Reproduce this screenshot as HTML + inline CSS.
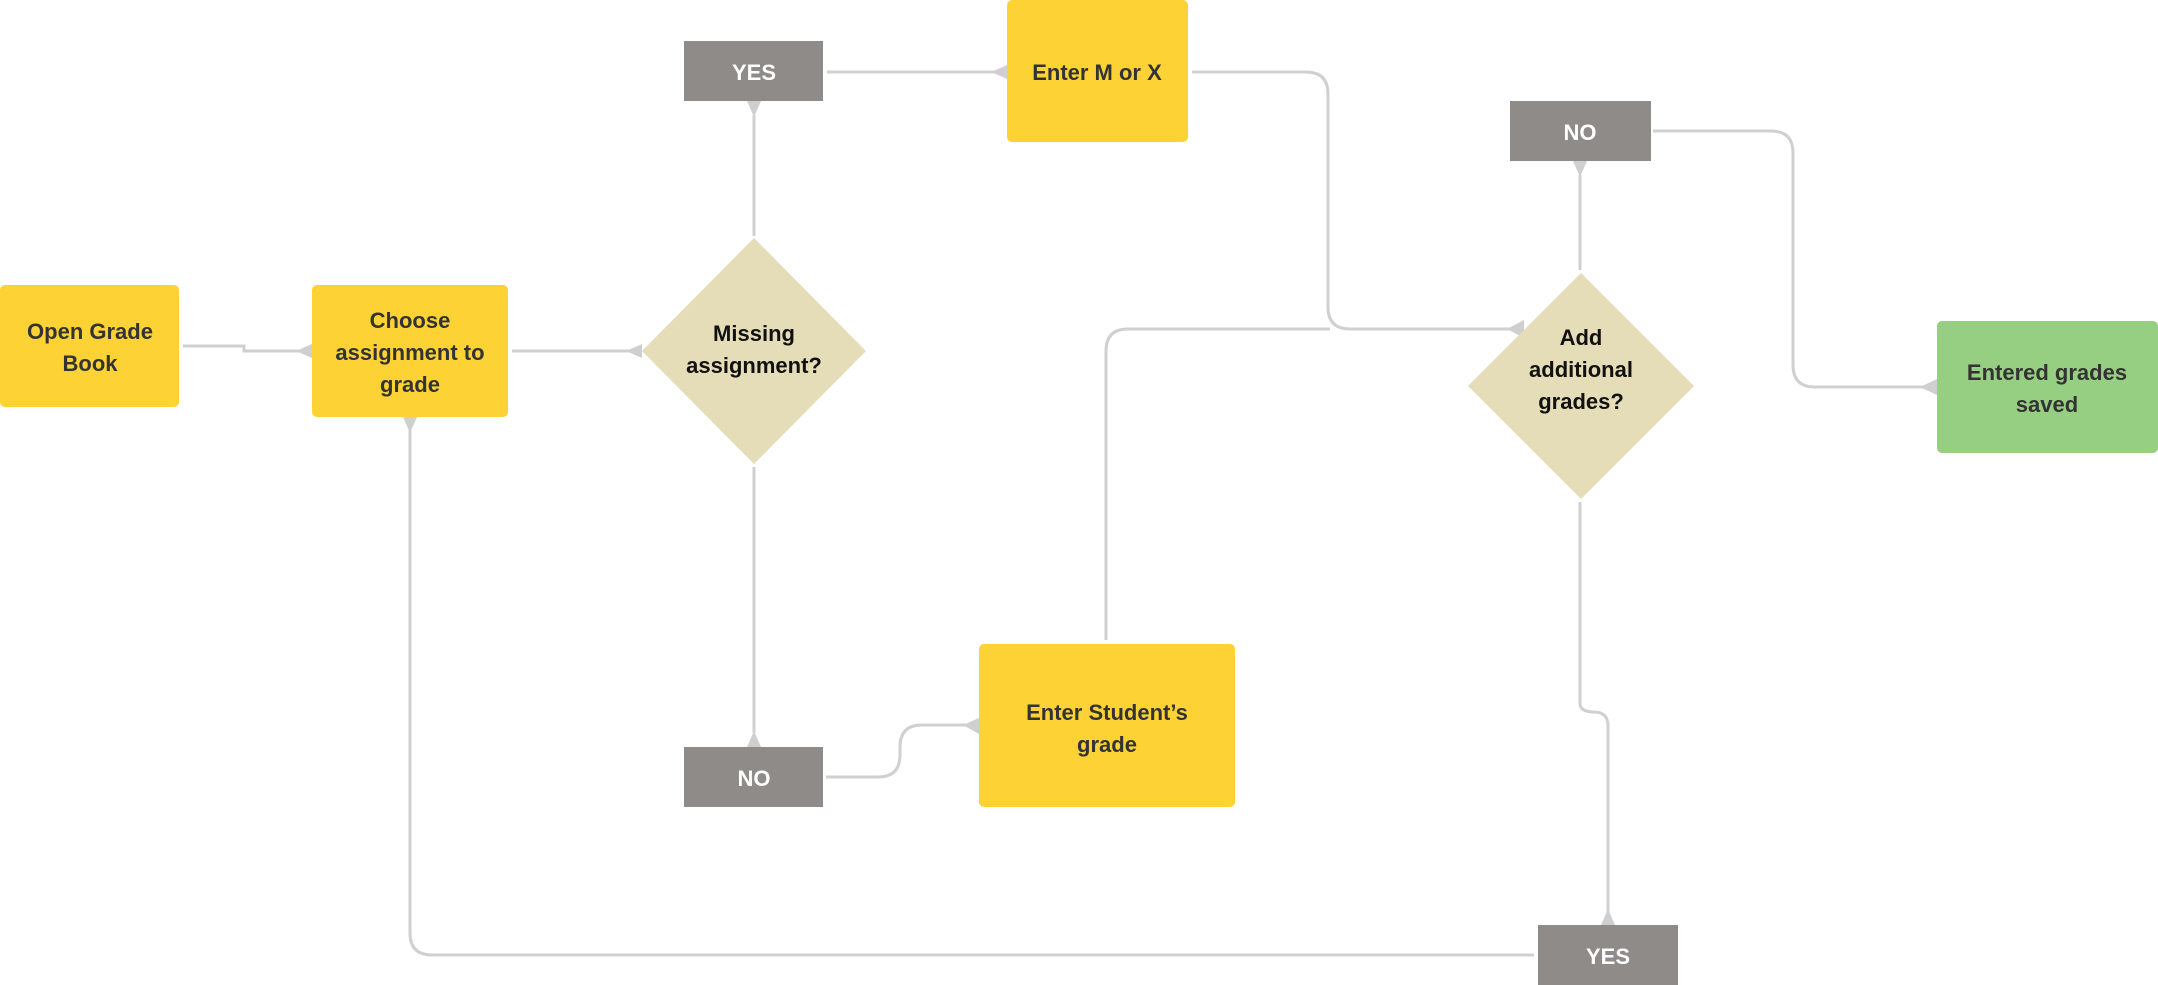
<!DOCTYPE html>
<html><head><meta charset="utf-8"><style>
html,body{margin:0;padding:0;background:#fff;}
svg{display:block}
text{font-family:"Liberation Sans",sans-serif;font-weight:bold;}
</style></head><body>
<svg width="2158" height="985" viewBox="0 0 2158 985" xmlns="http://www.w3.org/2000/svg">
<g fill="none" stroke="#d0d0d0" stroke-width="3">
<path d="M183 346 H244 V351 H300"/>
<path d="M512 351 H630"/>
<path d="M754 236 V115"/>
<path d="M827 72 H994"/>
<path d="M1192 72 H1306 Q1328 72 1328 94 V307 Q1328 329 1350 329 H1510"/>
<path d="M1106 640 V351 Q1106 329 1128 329 H1330"/>
<path d="M754 467 V733"/>
<path d="M826 777 H878 Q900 777 900 755 V747 Q900 725 922 725 H966"/>
<path d="M1580 270 V175"/>
<path d="M1653 131 H1771 Q1793 131 1793 153 V365 Q1793 387 1815 387 H1924"/>
<path d="M1580 502 V703 Q1580 712 1594 712 Q1608 712 1608 726 V912"/>
<path d="M1534 955 H432 Q410 955 410 933 V430"/>
</g>
<g fill="#cfcfcf">
<polygon points="312,344 312,358 296,351"/>
<polygon points="642,344 642,358 626,351"/>
<polygon points="747,101 761,101 754,117"/>
<polygon points="1007,65 1007,79 991,72"/>
<polygon points="1524,320 1524,338 1507,329"/>
<polygon points="747,747 761,747 754,731"/>
<polygon points="979,718 979,734 963,725"/>
<polygon points="1573,161 1587,161 1580,177"/>
<polygon points="1937,379 1937,395 1920,387"/>
<polygon points="1601,925 1615,925 1608,909"/>
<polygon points="403,417 417,417 410,433"/>
</g>
<g fill="#fdd235">
<rect x="0" y="285" width="179" height="122" rx="5"/>
<rect x="312" y="285" width="196" height="132" rx="5"/>
<rect x="1007" y="0" width="181" height="142" rx="5"/>
<rect x="979" y="644" width="256" height="163" rx="5"/>
</g>
<rect x="1937" y="321" width="221" height="132" rx="5" fill="#97cf82"/>
<g fill="#e5dcb8">
<polygon points="754,238 866,351 754,464 642,351"/>
<polygon points="1581,273 1694,386 1581,499 1468,386"/>
</g>
<g fill="#8e8b89">
<rect x="684" y="41" width="139" height="60"/>
<rect x="1510" y="101" width="141" height="60"/>
<rect x="684" y="747" width="139" height="60"/>
<rect x="1538" y="925" width="140" height="60"/>
</g>
<g fill="#fff" font-size="22" text-anchor="middle">
<text x="754" y="80">YES</text>
<text x="1580" y="140">NO</text>
<text x="754" y="786">NO</text>
<text x="1608" y="964">YES</text>
</g>
<g fill="#333" font-size="22" text-anchor="middle">
<text x="90" y="339">Open Grade</text>
<text x="90" y="371">Book</text>
<text x="410" y="328">Choose</text>
<text x="410" y="360">assignment to</text>
<text x="410" y="392">grade</text>
<text x="1097" y="80">Enter M or X</text>
<text x="1107" y="720">Enter Student’s</text>
<text x="1107" y="752">grade</text>
<text x="2047" y="380">Entered grades</text>
<text x="2047" y="412">saved</text>
</g>
<g fill="#111" font-size="22" text-anchor="middle">
<text x="754" y="341">Missing</text>
<text x="754" y="373">assignment?</text>
<text x="1581" y="345">Add</text>
<text x="1581" y="377">additional</text>
<text x="1581" y="409">grades?</text>
</g>
</svg>
</body></html>
